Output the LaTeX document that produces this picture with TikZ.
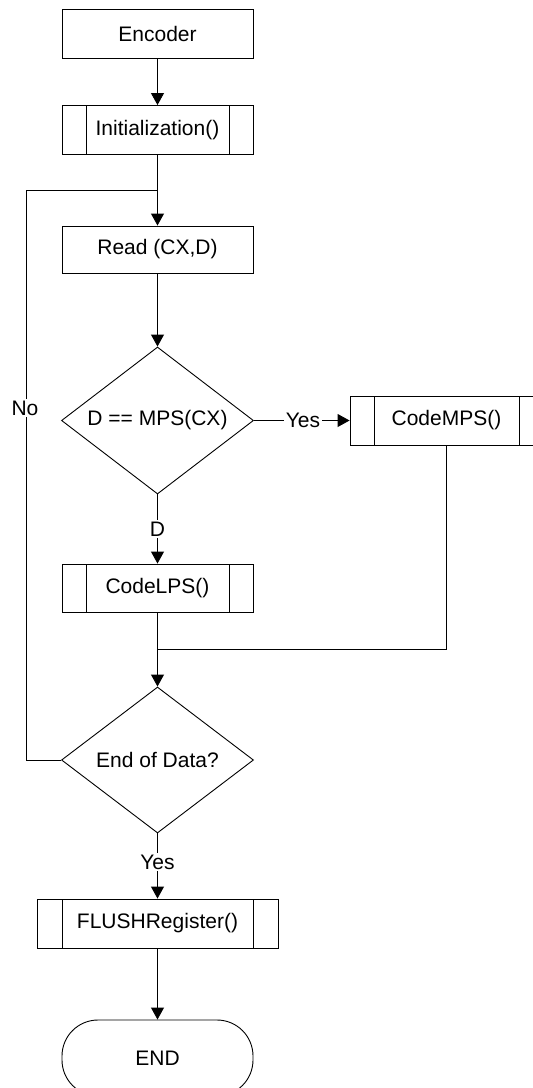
\documentclass[tikz,border=0pt]{standalone}
\usepackage{fontspec}
\setmainfont{Liberation Sans}
\usetikzlibrary{shapes.geometric,arrows.meta}
\begin{document}
\begin{tikzpicture}[x=1pt,y=-1pt,
  font=\fontsize{21}{25}\selectfont,
  line width=0.9pt,
  proc/.style={draw, rectangle, minimum width=191pt, minimum height=49pt, inner sep=0pt},
  sub/.style={proc, path picture={
      \draw ([xshift=#1]path picture bounding box.north west) -- ([xshift=#1]path picture bounding box.south west);
      \draw ([xshift=-#1]path picture bounding box.north east) -- ([xshift=-#1]path picture bounding box.south east);}},
  sub/.default=24pt,
  dec/.style={draw, diamond, aspect=1.3, minimum width=192pt, minimum height=147pt, inner sep=0pt},
  term/.style={draw, rectangle, rounded corners=36pt, minimum width=191pt, minimum height=76pt, inner sep=0pt},
  arr/.style={-{Triangle[width=13pt,length=12pt]}},
  lbl/.style={fill=white, inner sep=1.5pt}
]
\useasboundingbox (0,0) rectangle (533,1088);
\clip (0,0) rectangle (533,1088);

\node[proc] (enc) at (157.5,33.5) {Encoder};
\node[sub] (init) at (157.5,130) {Initialization()};
\node[proc, minimum height=47pt] (read) at (157.5,249.5) {Read (CX,D)};
\node[dec] (d1) at (157.5,420.5) {D == MPS(CX)};
\node[sub, minimum width=193pt] (mps) at (446.5,420.5) {CodeMPS()};
\node[sub, minimum height=48pt] (lps) at (157.5,588) {CodeLPS()};
\node[dec, minimum height=146pt] (d2) at (157.5,760) {End of Data?};
\node[sub=25pt, minimum width=241pt] (flush) at (157.5,923.5) {FLUSHRegister()};
\node[term] (end) at (157.5,1058) {END};

\coordinate (loopL) at (26,190);
\coordinate (loopT) at (157.5,190);
\coordinate (merge) at (157.5,649);

\draw[arr] (enc) -- (init);
\draw[arr] (init) -- (read);
\draw (d2.west) -| (loopL) -- (loopT);
\draw[arr] (read) -- (d1);
\draw[arr] (d1) -- (mps);
\draw[arr] (d1) -- (lps);
\draw (lps) -- (merge);
\draw (mps.south) |- (merge);
\draw[arr] (merge) -- (d2);
\draw[arr] (d2) -- (flush);
\draw[arr] (flush) -- (end);

\node[lbl] (no) at (25,408) {No};
\node[lbl] (yes1) at (303,420.5) {Yes};
\node[lbl] (dl) at (157.5,529) {D};
\node[lbl] (yes2) at (157.5,862) {Yes};
\end{tikzpicture}
\end{document}
